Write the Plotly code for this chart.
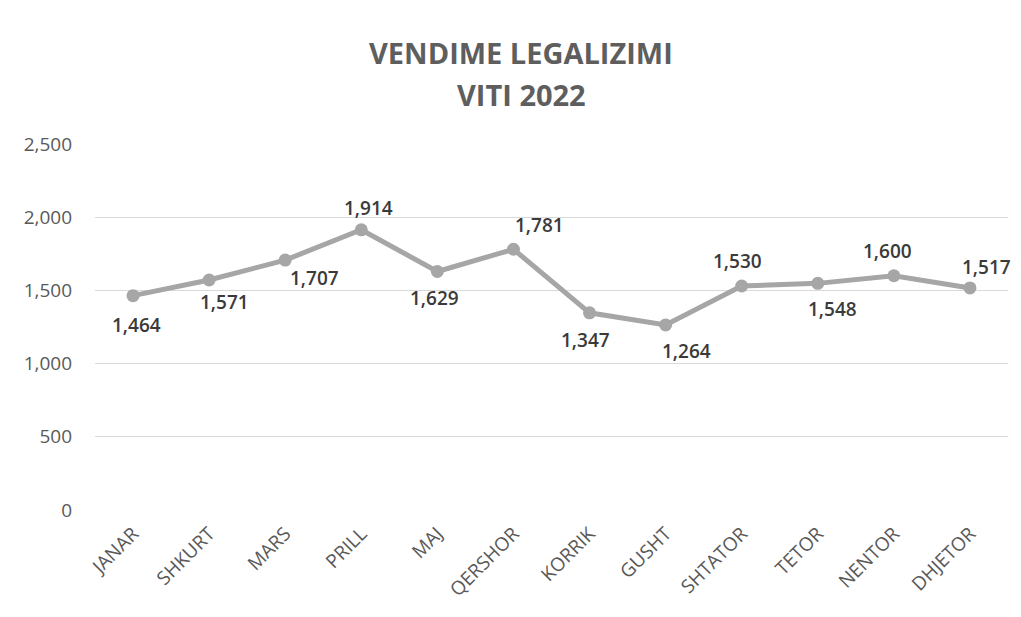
import plotly.graph_objects as go

months = ["JANAR", "SHKURT", "MARS", "PRILL", "MAJ", "QERSHOR", "KORRIK",
          "GUSHT", "SHTATOR", "TETOR", "NENTOR", "DHJETOR"]
values = [1464, 1571, 1707, 1914, 1629, 1781, 1347, 1264, 1530, 1548, 1600, 1517]
y_ticks = [0, 500, 1000, 1500, 2000, 2500]
title_lines = ["VENDIME LEGALIZIMI", "VITI 2022"]

# data-label placement offsets (pixels), as in the reference
label_dx = [3, 15, 29, 7, -3, 26, -4, 21, -4, 15, -6, 17]
label_dy = [-29, -22, -18, 22, -26, 24, -27, -26, 25, -26, 25, 21]

fig = go.Figure()
fig.add_trace(go.Scatter(
    x=months, y=values, mode="lines+markers",
    line=dict(color="#A6A6A6", width=5),
    marker=dict(color="#A6A6A6", size=13),
    showlegend=False,
))

for m, v, dx, dy in zip(months, values, label_dx, label_dy):
    fig.add_annotation(x=m, y=v, text=f"{v:,}", showarrow=False,
                       xshift=dx, yshift=dy, xanchor="center", yanchor="middle",
                       font=dict(family="Open Sans", size=19, color="#3A3A3A",
                                 weight=600))

for txt, yy in zip(title_lines, [1.251, 1.134]):
    fig.add_annotation(text=f"<b>{txt}</b>", xref="paper", yref="paper",
                       x=0.4666, y=yy, xanchor="center", yanchor="middle",
                       showarrow=False,
                       font=dict(family="Open Sans", size=29, color="#5E5E5E"))

fig.update_layout(
    width=1021, height=617,
    paper_bgcolor="white", plot_bgcolor="white",
    margin=dict(l=87, r=21, t=136, b=115),
    font=dict(family="Open Sans", color="#595959"),
)
fig.update_xaxes(range=[-0.5, 11.5], tickangle=-45,
                 tickfont=dict(size=19, color="#595959"),
                 showgrid=False, showline=False, ticks="",
                 ticklabelstandoff=8)
fig.update_yaxes(range=[0, 2500], tickvals=y_ticks, tickformat=",",
                 tickfont=dict(size=19, color="#595959"),
                 gridcolor="#D9D9D9", gridwidth=1, zeroline=False,
                 showline=False, ticks="", ticklabelstandoff=22)

fig.write_html("out.html")
